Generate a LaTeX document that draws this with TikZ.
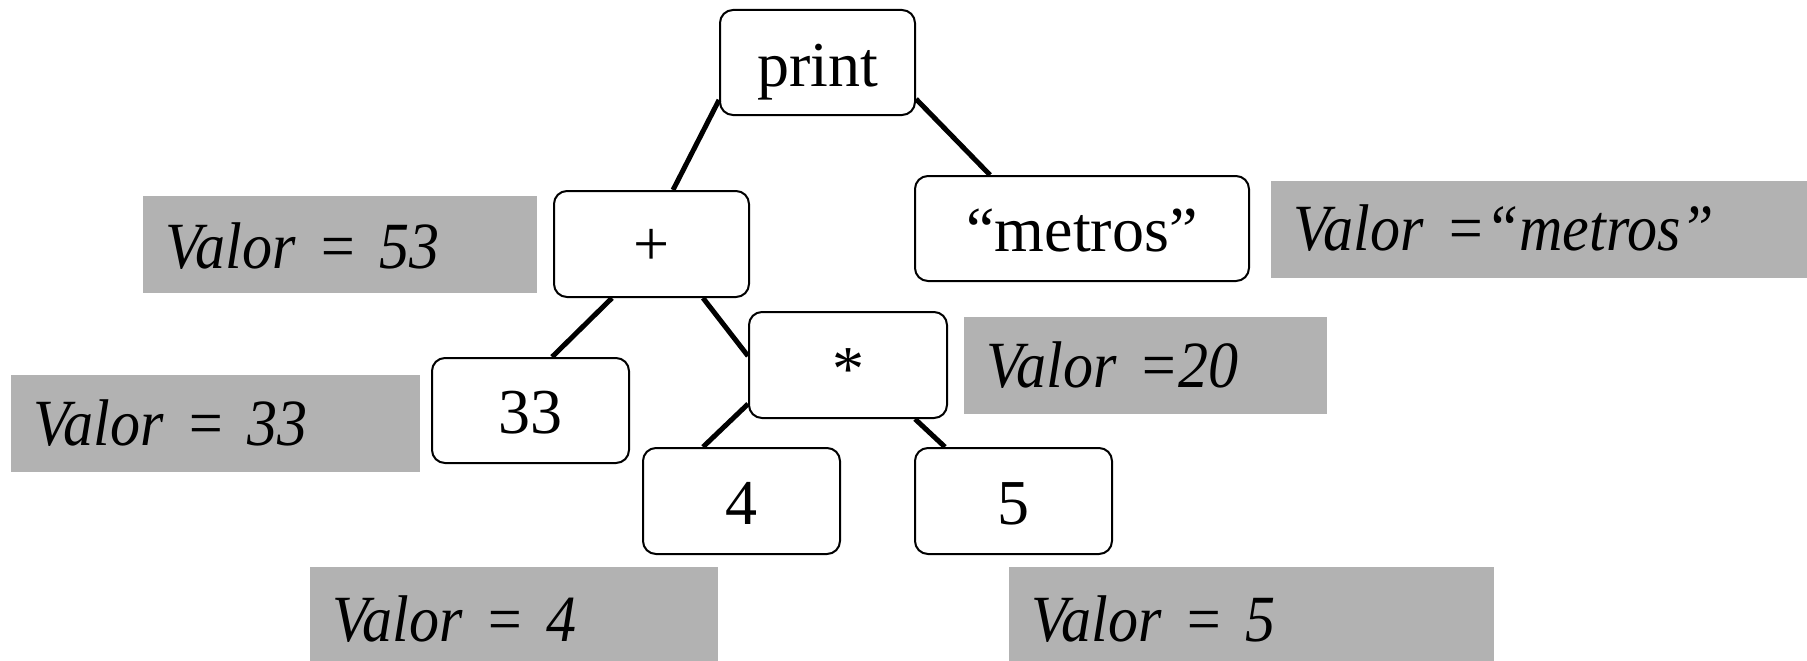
\documentclass[tikz,border=0pt]{standalone}
\usepackage{fontspec}
\setmainfont{Liberation Serif}
\newfontfamily\valfont{Liberation Serif}[FakeStretch=0.91]
\definecolor{valgray}{RGB}{178,178,178}
\begin{document}
\begin{tikzpicture}[x=1pt,y=-1pt,
  treebox/.style={draw=black, line width=2pt, rounded corners=13pt, fill=white,
    inner sep=0pt, align=center, anchor=north west,
    font=\fontsize{64}{64}\selectfont},
  valbox/.style={fill=valgray, inner ysep=0pt, inner xsep=22pt, align=left,
    anchor=north west, font=\valfont\fontsize{66}{66}\selectfont\itshape},
  edgeline/.style={line width=5pt}]
\useasboundingbox (0,0) rectangle (1807,661);
\clip (0,0) rectangle (1807,661);

% value annotations
\node[valbox, text width=350pt, text height=72pt, text depth=25pt] (v53) at (143,196) {Valor = 53};
\node[valbox, text width=515pt, text height=69pt, text depth=28pt] (vmetros) at (1271,181) {Valor =“metros”};
\node[valbox, text width=319pt, text height=70pt, text depth=27pt] (v20) at (964,317) {Valor =20};
\node[valbox, text width=365pt, text height=70pt, text depth=27pt] (v33) at (11,375) {Valor = 33};
\node[valbox, text width=364pt, text height=74pt, text depth=29pt] (v4) at (310,567) {Valor = 4};
\node[valbox, text width=441pt, text height=74pt, text depth=29pt] (v5) at (1009,567) {Valor = 5};

% syntax tree nodes
\node[treebox, text width=195pt, text height=76pt, text depth=29pt] (print) at (719,9) {print};
\node[treebox, text width=195pt, text height=74pt, text depth=32pt] (plus) at (553,190) {+};
\node[treebox, text width=334pt, text height=75pt, text depth=30pt] (metros) at (914,175) {“metros”};
\node[treebox, text width=198pt, text height=78pt, text depth=28pt] (mul) at (748,311) {*};
\node[treebox, text width=197pt, text height=75pt, text depth=30pt] (n33) at (431,357) {33};
\node[treebox, text width=197pt, text height=76pt, text depth=30pt] (n4) at (642,447) {4};
\node[treebox, text width=197pt, text height=76pt, text depth=30pt] (n5) at (914,447) {5};

% tree edges
\draw[edgeline] ([yshift=16pt]print.south west) -- ([xshift=120pt]plus.north west);
\draw[edgeline] ([yshift=17pt]print.south east) -- ([xshift=76pt]metros.north west);
\draw[edgeline] ([xshift=59pt]plus.south west) -- ([xshift=121pt]n33.north west);
\draw[edgeline] ([xshift=150pt]plus.south west) -- ([yshift=-45pt]mul.north west);
\draw[edgeline] ([yshift=15pt]mul.south west) -- ([xshift=61pt]n4.north west);
\draw[edgeline] ([xshift=167pt]mul.south west) -- ([xshift=31pt]n5.north west);
\end{tikzpicture}
\end{document}
